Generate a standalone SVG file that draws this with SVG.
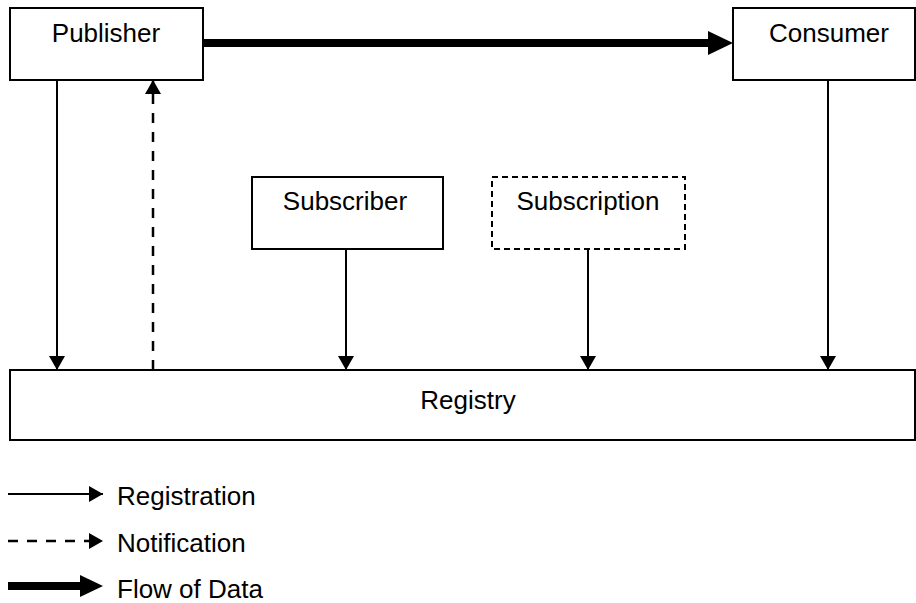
<svg xmlns="http://www.w3.org/2000/svg" width="916" height="603" viewBox="0 0 916 603">
<style>
  .box { fill: #ffffff; stroke: #000000; stroke-width: 2; }
  .dbox { fill: #ffffff; stroke: #000000; stroke-width: 2; stroke-dasharray: 6 4; }
  .lbl { font-family: "Liberation Sans", Arial, sans-serif; font-size: 26px; fill: #000000; }
  .thin { stroke: #000000; stroke-width: 2; fill: none; }
  .dash { stroke: #000000; stroke-width: 2.5; fill: none; stroke-dasharray: 10 9; }
  .thick { stroke: #000000; stroke-width: 8; fill: none; }
</style>
<defs>
  <marker id="ah" markerUnits="userSpaceOnUse" markerWidth="15" markerHeight="16" refX="14" refY="8" orient="auto">
    <path d="M0,0 L14,8 L0,16 z" fill="#000000"/>
  </marker>
</defs>
<rect width="916" height="603" fill="#ffffff"/>

<g id="connectors">
  <line class="thick" x1="203" y1="43" x2="720" y2="43"/>
  <path d="M708,31 L733,43 L708,55 z" fill="#000000"/>
  <line class="thin" x1="57" y1="80" x2="57" y2="370" marker-end="url(#ah)"/>
  <line class="dash" x1="153" y1="370" x2="153" y2="80" marker-end="url(#ah)"/>
  <line class="thin" x1="346" y1="249" x2="346" y2="370" marker-end="url(#ah)"/>
  <line class="thin" x1="588" y1="249" x2="588" y2="370" marker-end="url(#ah)"/>
  <line class="thin" x1="828" y1="80" x2="828" y2="370" marker-end="url(#ah)"/>
</g>

<g id="publisher">
  <rect class="box" x="10" y="8" width="193" height="72"/>
  <text class="lbl" x="106" y="42" text-anchor="middle">Publisher</text>
</g>
<g id="consumer">
  <rect class="box" x="733" y="8" width="182" height="72"/>
  <text class="lbl" x="829" y="42" text-anchor="middle">Consumer</text>
</g>
<g id="subscriber">
  <rect class="box" x="252" y="177" width="191" height="72"/>
  <text class="lbl" x="345" y="210" text-anchor="middle">Subscriber</text>
</g>
<g id="subscription">
  <rect class="dbox" x="492" y="177" width="193" height="72"/>
  <text class="lbl" x="588" y="210" text-anchor="middle">Subscription</text>
</g>
<g id="registry">
  <rect class="box" x="10" y="370" width="905" height="70"/>
  <text class="lbl" x="468" y="409" text-anchor="middle">Registry</text>
</g>

<g id="legend">
  <line class="thin" x1="8" y1="494" x2="103" y2="494" marker-end="url(#ah)"/>
  <text class="lbl" x="117" y="505">Registration</text>
  <line class="dash" x1="8" y1="541" x2="103" y2="541" stroke-dasharray="8 9" marker-end="url(#ah)"/>
  <text class="lbl" x="117" y="552">Notification</text>
  <line class="thick" x1="8" y1="586" x2="85" y2="586" stroke-width="9"/>
  <path d="M80,575 L103,586 L80,597 z" fill="#000000"/>
  <text class="lbl" x="117" y="598">Flow of Data</text>
</g>
</svg>
